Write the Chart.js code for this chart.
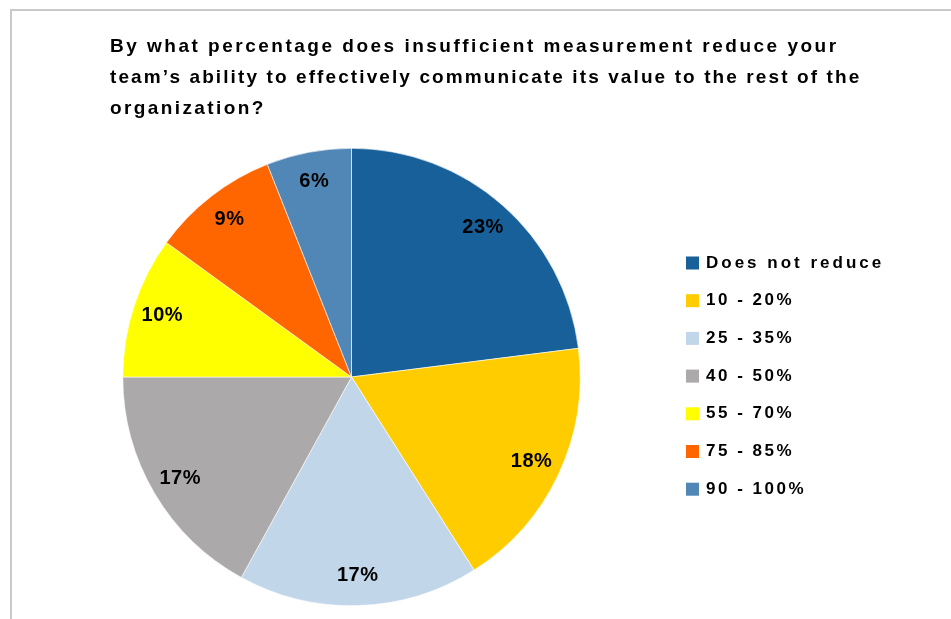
<!DOCTYPE html>
<html>
<head>
<meta charset="utf-8">
<title>Insufficient measurement</title>
<script src="https://cdn.jsdelivr.net/npm/chart.js@4"></script>
<style>
  html, body { margin: 0; padding: 0; background: #fff; }
  #wrap { position: relative; width: 951px; height: 619px; }
</style>
</head>
<body>
<div id="wrap"><canvas id="reduce-pie" width="951" height="619"></canvas></div>
<script>
// Survey answers: how much insufficient measurement cuts the team's ability to show its value

const titleLines = [
  'By what percentage does insufficient measurement reduce your',
  'team\u2019s ability to effectively communicate its value to the rest of the',
  'organization?'
];
const answers = ['Does not reduce', '10 - 20%', '25 - 35%', '40 - 50%', '55 - 70%', '75 - 85%', '90 - 100%'];
const shares = [23, 18, 17, 17, 10, 9, 6];
const sliceColors = ['#17609A', '#FFCC00', '#C2D6EA', '#ABA9AA', '#FFFF00', '#FF6600', '#5087B6'];

const FONT = '"Liberation Sans", Arial, sans-serif';
// tracking per title line, the narrow-letter line sits a little tighter
const titleTracking = [2.5, 2.1, 2.4];

// frame, title and legend are painted straight onto the canvas
const decorations = {
  id: 'decorations',
  beforeDraw: function(chart) {
    const ctx = chart.ctx;
    ctx.save();
    ctx.strokeStyle = '#C9C9C9';
    ctx.lineWidth = 2;
    ctx.strokeRect(11, 10, 1000, 700);
    ctx.restore();
  },
  afterDraw: function(chart) {
    const ctx = chart.ctx;
    ctx.save();
    ctx.fillStyle = '#000';
    ctx.textBaseline = 'alphabetic';
    ctx.textAlign = 'left';

    ctx.font = 'bold 19px ' + FONT;
    titleLines.forEach(function(line, i) {
      ctx.letterSpacing = titleTracking[i] + 'px';
      ctx.fillText(line, 110, 52 + i * 31);
    });

    ctx.font = 'bold 17px ' + FONT;
    ctx.textBaseline = 'middle';
    answers.forEach(function(label, i) {
      const y = 263 + i * 37.7;
      ctx.fillStyle = sliceColors[i];
      ctx.fillRect(686, y - 6.5, 13, 13);
      ctx.fillStyle = '#000';
      ctx.letterSpacing = (i === 0 ? 3 : 2.5) + 'px';
      ctx.fillText(label, 706, y);
    });
    ctx.restore();
  }
};

// percentage labels inside each slice
const sliceLabels = {
  id: 'sliceLabels',
  afterDatasetsDraw: function(chart) {
    const ctx = chart.ctx;
    const meta = chart.getDatasetMeta(0);
    ctx.save();
    ctx.font = 'bold 20px ' + FONT;
    ctx.letterSpacing = '0.5px';
    ctx.fillStyle = '#000';
    ctx.textAlign = 'center';
    ctx.textBaseline = 'middle';
    meta.data.forEach(function(arc, i) {
      const p = arc.getProps(['x', 'y', 'startAngle', 'endAngle', 'outerRadius'], true);
      const mid = (p.startAngle + p.endAngle) / 2;
      const r = p.outerRadius * 0.87;
      ctx.fillText(shares[i] + '%', p.x + Math.cos(mid) * r, p.y + Math.sin(mid) * r);
    });
    ctx.restore();
  }
};

const reducePie = new Chart(document.getElementById('reduce-pie'), {
  type: 'pie',
  data: {
    labels: answers,
    datasets: [{
      data: shares,
      backgroundColor: sliceColors,
      borderColor: '#fff',
      borderWidth: 0.6
    }]
  },
  options: {
    responsive: false,
    animation: false,
    layout: {
      padding: { left: 122, top: 148, right: 370, bottom: 13 }
    },
    plugins: {
      legend: { display: false },
      title: { display: false },
      tooltip: { enabled: false }
    }
  },
  plugins: [decorations, sliceLabels]
});
</script>
</body>
</html>
